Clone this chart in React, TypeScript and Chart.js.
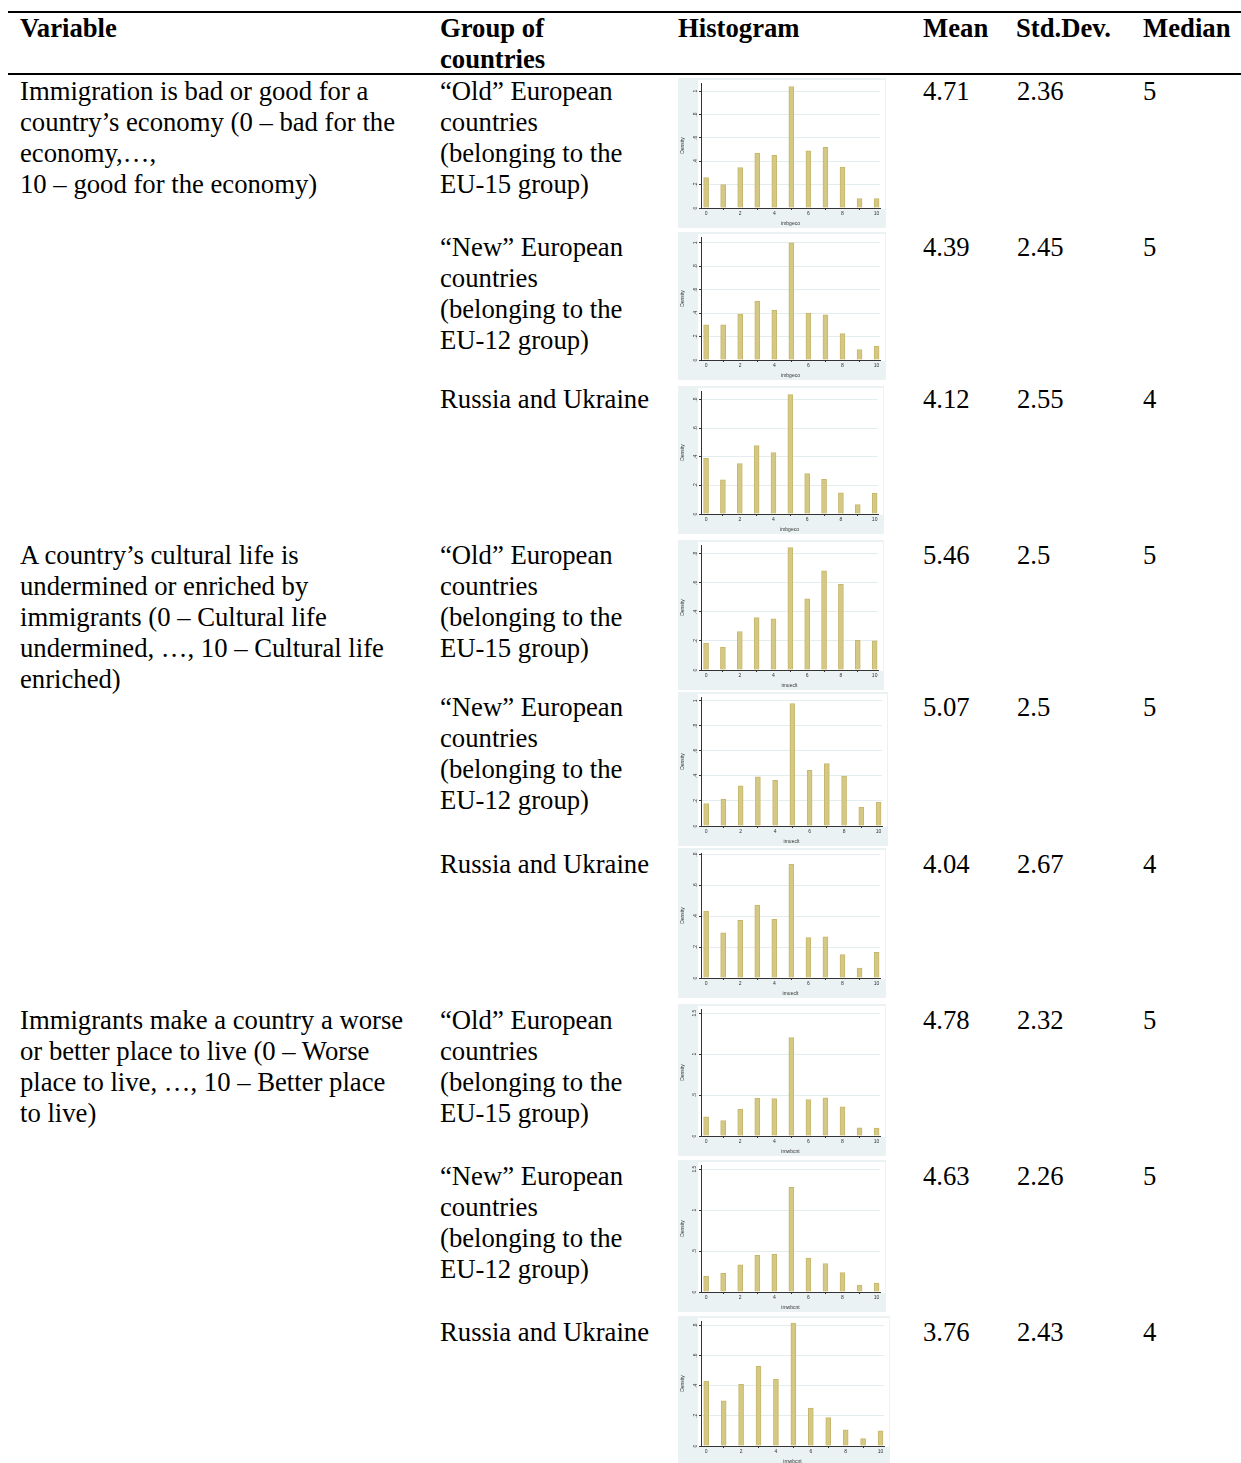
import React, { useEffect, useRef } from "react";
import { Chart, registerables } from "chart.js";

Chart.register(...registerables);

// ---------- data ----------
const headerLabels = ["Variable", "Group of countries", "Histogram", "Mean", "Std.Dev.", "Median"];

const variableTexts = [
  ["Immigration is bad or good for a", "country\u2019s economy (0 \u2013 bad for the", "economy,\u2026,", "10 \u2013 good for the economy)"],
  ["A country\u2019s cultural life is", "undermined or enriched by", "immigrants (0 \u2013 Cultural life", "undermined, \u2026, 10 \u2013 Cultural life", "enriched)"],
  ["Immigrants make a country a worse", "or better place to live (0 \u2013 Worse", "place to live, \u2026, 10 \u2013 Better place", "to live)"],
];

const groupOld = ["\u201COld\u201D European", "countries", "(belonging to the", "EU-15 group)"];
const groupNew = ["\u201CNew\u201D European", "countries", "(belonging to the", "EU-12 group)"];
const groupRU = ["Russia and Ukraine"];
const groupTexts = [groupOld, groupNew, groupRU, groupOld, groupNew, groupRU, groupOld, groupNew, groupRU];

const meanValues = ["4.71", "4.39", "4.12", "5.46", "5.07", "4.04", "4.78", "4.63", "3.76"];
const stdDevValues = ["2.36", "2.45", "2.55", "2.5", "2.5", "2.67", "2.32", "2.26", "2.43"];
const medianValues = ["5", "5", "4", "5", "5", "4", "5", "5", "4"];

const scoreCategories = [0, 1, 2, 3, 4, 5, 6, 7, 8, 9, 10];
const xTickValues = [0, 2, 4, 6, 8, 10];
const xTitles = ["imbgeco", "imbgeco", "imbgeco", "imueclt", "imueclt", "imueclt", "imwbcnt", "imwbcnt", "imwbcnt"];

const yTicksFine = [0, 0.2, 0.4, 0.6, 0.8, 1];
const yTicksFine8 = [0, 0.2, 0.4, 0.6, 0.8];
const yTicksCoarse = [0, 0.5, 1, 1.5];

const densEconOld = [0.26, 0.2, 0.345, 0.47, 0.45, 1.04, 0.49, 0.52, 0.35, 0.08, 0.08];
const densEconNew = [0.3, 0.3, 0.393, 0.503, 0.427, 1.0, 0.4, 0.385, 0.225, 0.09, 0.118];
const densEconRU = [0.39, 0.239, 0.352, 0.478, 0.429, 0.835, 0.283, 0.243, 0.148, 0.065, 0.144];
const densCultOld = [0.185, 0.157, 0.265, 0.361, 0.352, 0.842, 0.49, 0.683, 0.589, 0.204, 0.2];
const densCultNew = [0.18, 0.212, 0.321, 0.392, 0.365, 0.978, 0.444, 0.499, 0.398, 0.15, 0.19];
const densCultRU = [0.433, 0.293, 0.373, 0.473, 0.38, 0.738, 0.262, 0.267, 0.151, 0.064, 0.167];
const densPlaceOld = [0.233, 0.187, 0.324, 0.461, 0.457, 1.2, 0.445, 0.466, 0.357, 0.1, 0.096];
const densPlaceNew = [0.195, 0.228, 0.331, 0.447, 0.46, 1.276, 0.414, 0.348, 0.236, 0.083, 0.108];
const densPlaceRU = [0.431, 0.3, 0.409, 0.529, 0.444, 0.816, 0.251, 0.189, 0.107, 0.049, 0.1];

const densitySeries = [densEconOld, densEconNew, densEconRU, densCultOld, densCultNew, densCultRU, densPlaceOld, densPlaceNew, densPlaceRU];
const yAxisMax = [1.07, 1.05, 0.86, 0.86, 1.03, 0.81, 1.55, 1.55, 0.83];
const yTickSets = [yTicksFine, yTicksFine, yTicksFine8, yTicksFine8, yTicksFine, yTicksFine8, yTicksCoarse, yTicksCoarse, yTicksFine8];

// ---------- layout ----------
const chartBoxes = [
  { x: 678, y: 78, w: 208, h: 150 },
  { x: 678, y: 232, w: 208, h: 148 },
  { x: 678, y: 386, w: 206, h: 148 },
  { x: 678, y: 540, w: 206, h: 150 },
  { x: 678, y: 692, w: 210, h: 154 },
  { x: 678, y: 848, w: 208, h: 150 },
  { x: 678, y: 1004, w: 208, h: 152 },
  { x: 678, y: 1160, w: 208, h: 152 },
  { x: 678, y: 1316, w: 212, h: 150 },
];
const rowTextTops = [76, 232, 384, 540, 692, 849, 1005, 1161, 1317];
const variableRowIndex = [0, 3, 6];

const fmtTick = (v: number) => {
  if (v === 0) return "0";
  const s = String(Math.round(v * 100) / 100);
  return s.replace(/^0\./, ".");
};

const tinyFont = { size: 5, family: "'Liberation Sans', Arial, sans-serif" };

function Histogram({ idx }: { idx: number }) {
  const ref = useRef<HTMLCanvasElement>(null);
  const box = chartBoxes[idx];
  useEffect(() => {
    const values = densitySeries[idx];
    const yTicks = yTickSets[idx];
    const bgPlugin = {
      id: "stataBg",
      beforeDraw(chart: any) {
        const { ctx, chartArea: a, width, height } = chart;
        ctx.save();
        ctx.fillStyle = "#EAF2F3";
        ctx.fillRect(0, 0, width, height);
        ctx.fillStyle = "#FFFFFF";
        ctx.fillRect(a.left - 3, a.top - 3, a.right - a.left + 8, a.bottom - a.top + 4);
        ctx.restore();
      },
    };
    const chart = new Chart(ref.current as HTMLCanvasElement, {
      type: "bar",
      data: {
        datasets: [
          {
            data: scoreCategories.map((c, i) => ({ x: c, y: values[i] })) as any,
            backgroundColor: "#D5C882",
            borderColor: "#C6B76E",
            borderWidth: 1,
            barThickness: 5,
          } as any,
        ],
      },
      options: {
        animation: false,
        responsive: false,
        devicePixelRatio: 1,
        layout: { padding: { left: 2, top: 5, right: 6, bottom: 1 } },
        plugins: { legend: { display: false }, tooltip: { enabled: false } },
        scales: {
          x: {
            type: "linear",
            min: -0.3,
            max: 10.2,
            offset: false,
            grid: { drawOnChartArea: false, drawTicks: true, tickLength: 2, tickColor: "#333" },
            border: { display: true, color: "#333", width: 1 },
            afterBuildTicks: (s: any) => {
              s.ticks = xTickValues.map((v) => ({ value: v }));
            },
            ticks: { font: tinyFont, color: "#333", padding: 1, maxRotation: 0, autoSkip: false, callback: (v: any) => fmtTick(Number(v)) },
            title: { display: true, text: xTitles[idx], font: tinyFont, color: "#333", padding: { top: 0, bottom: 0 } },
            afterFit: (s: any) => {
              s.height = 19;
            },
          },
          y: {
            min: 0,
            max: yAxisMax[idx],
            grid: { color: "#E3ECEE", lineWidth: 1, drawTicks: true, tickLength: 2, tickColor: "#333" },
            border: { display: true, color: "#333", width: 1 },
            afterBuildTicks: (s: any) => {
              s.ticks = yTicks.map((v) => ({ value: v }));
            },
            ticks: {
              font: tinyFont,
              color: "#333",
              minRotation: 90,
              maxRotation: 90,
              crossAlign: "center",
              padding: 1,
              autoSkip: false,
              callback: (v: any) => fmtTick(Number(v)),
            },
            title: { display: true, text: "Density", font: tinyFont, color: "#333", padding: { top: 0, bottom: 0 } },
            afterFit: (s: any) => {
              s.width = 21;
            },
          },
        },
      } as any,
      plugins: [bgPlugin],
    });
    return () => chart.destroy();
  }, [idx]);
  return (
    <canvas
      ref={ref}
      width={box.w}
      height={box.h}
      style={{ position: "absolute", left: box.x, top: box.y, width: box.w, height: box.h, display: "block" }}
    />
  );
}

const Lines = ({ lines }: { lines: string[] }) => (
  <>
    {lines.map((l, i) => (
      <div key={i}>{l}</div>
    ))}
  </>
);

export default function App() {
  const base: React.CSSProperties = {
    position: "absolute",
    whiteSpace: "nowrap",
  };
  return (
    <div
      style={{
        position: "absolute",
        left: 0,
        top: 0,
        width: 1241,
        height: 1463,
        background: "#fff",
        fontFamily: "'Liberation Serif', 'Times New Roman', serif",
        fontSize: 26.7,
        lineHeight: "31px",
        color: "#000",
        overflow: "hidden",
      }}
    >
      {/* rules */}
      <div style={{ position: "absolute", left: 8, top: 11, width: 1233, height: 2, background: "#000" }} />
      <div style={{ position: "absolute", left: 8, top: 73, width: 1233, height: 2, background: "#000" }} />

      {/* header */}
      <div style={{ ...base, left: 20, top: 13, fontWeight: "bold" }}>{headerLabels[0]}</div>
      <div style={{ ...base, left: 440, top: 13, fontWeight: "bold" }}>
        <div>Group of</div>
        <div>countries</div>
      </div>
      <div style={{ ...base, left: 678, top: 13, fontWeight: "bold" }}>{headerLabels[2]}</div>
      <div style={{ ...base, left: 923, top: 13, fontWeight: "bold" }}>{headerLabels[3]}</div>
      <div style={{ ...base, left: 1016, top: 13, fontWeight: "bold" }}>{headerLabels[4]}</div>
      <div style={{ ...base, left: 1143, top: 13, fontWeight: "bold" }}>{headerLabels[5]}</div>

      {/* variable column */}
      {variableTexts.map((lines, i) => (
        <div key={"v" + i} style={{ ...base, left: 20, top: rowTextTops[variableRowIndex[i]] }}>
          <Lines lines={lines} />
        </div>
      ))}

      {/* rows */}
      {groupTexts.map((lines, i) => (
        <React.Fragment key={"r" + i}>
          <div style={{ ...base, left: 440, top: rowTextTops[i] }}>
            <Lines lines={lines} />
          </div>
          <div style={{ ...base, left: 923, top: rowTextTops[i] }}>{meanValues[i]}</div>
          <div style={{ ...base, left: 1017, top: rowTextTops[i] }}>{stdDevValues[i]}</div>
          <div style={{ ...base, left: 1143, top: rowTextTops[i] }}>{medianValues[i]}</div>
          <Histogram idx={i} />
        </React.Fragment>
      ))}
    </div>
  );
}
